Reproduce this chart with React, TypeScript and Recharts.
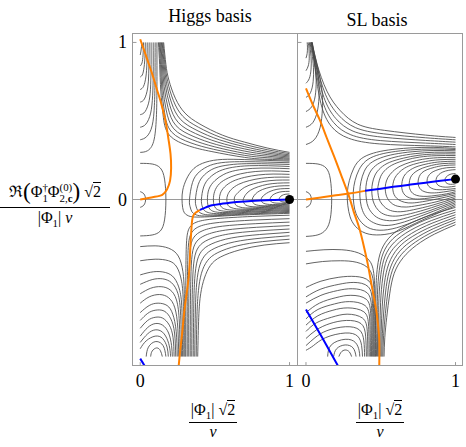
import React from 'react';
import { ScatterChart, Scatter, XAxis, YAxis, ReferenceLine } from 'recharts';

// ---- Higgs basis panel: contour lines as [x, y, x, y, ...]
const higgsCorner = [
  [0, 0.92, 0.005, 0.945, 0.009, 0.975, 0.01, 1.0],
  [0, 0.85, 0.012, 0.87, 0.019, 0.92, 0.022, 1.0],
  [0, 0.78, 0.017, 0.8, 0.028, 0.86, 0.033, 0.93, 0.034, 1.0],
  [0, 0.7, 0.022, 0.72, 0.038, 0.78, 0.045, 0.87, 0.047, 1.0],
  [0, 0.62, 0.028, 0.64, 0.05, 0.71, 0.057, 0.8, 0.059, 0.9, 0.06, 1.0],
  [0, 0.54, 0.033, 0.56, 0.06, 0.63, 0.07, 0.73, 0.073, 0.86, 0.073, 1.0],
  [0, 0.46, 0.038, 0.48, 0.07, 0.55, 0.083, 0.66, 0.087, 0.8, 0.087, 1.0],
  [0, 0.38, 0.043, 0.4, 0.08, 0.47, 0.095, 0.6, 0.099, 0.76, 0.1, 1.0],
  [0, 0.3, 0.048, 0.31, 0.09, 0.37, 0.108, 0.52, 0.112, 0.72, 0.112, 1.0],
];

const higgsFan = [
  [0.157, 1.0, 0.172, 0.86, 0.192, 0.76, 0.235, 0.645, 0.3, 0.55, 0.4, 0.48, 0.55, 0.41, 0.7, 0.365, 0.85, 0.328, 1.0, 0.3],
  [0.152, 1.0, 0.166, 0.86, 0.184, 0.75, 0.222, 0.63, 0.285, 0.53, 0.39, 0.46, 0.54, 0.395, 0.7, 0.35, 0.85, 0.317, 1.0, 0.292],
  [0.147, 1.0, 0.16, 0.86, 0.176, 0.74, 0.21, 0.615, 0.27, 0.51, 0.38, 0.44, 0.53, 0.38, 0.7, 0.336, 0.85, 0.306, 1.0, 0.284],
  [0.142, 1.0, 0.154, 0.86, 0.168, 0.73, 0.198, 0.6, 0.255, 0.49, 0.37, 0.42, 0.52, 0.365, 0.7, 0.322, 0.85, 0.296, 1.0, 0.277],
  [0.137, 1.0, 0.148, 0.86, 0.16, 0.72, 0.186, 0.585, 0.24, 0.47, 0.36, 0.4, 0.51, 0.35, 0.7, 0.308, 0.85, 0.286, 1.0, 0.27],
  [0.132, 1.0, 0.142, 0.86, 0.152, 0.71, 0.174, 0.57, 0.225, 0.45, 0.35, 0.38, 0.5, 0.335, 0.7, 0.294, 0.85, 0.276, 1.0, 0.263],
  [0.127, 1.0, 0.136, 0.86, 0.145, 0.7, 0.163, 0.555, 0.21, 0.43, 0.34, 0.36, 0.49, 0.32, 0.7, 0.281, 0.85, 0.266, 1.0, 0.257],
  [0.122, 1.0, 0.13, 0.86, 0.138, 0.69, 0.153, 0.54, 0.195, 0.41, 0.33, 0.34, 0.48, 0.305, 0.7, 0.268, 0.85, 0.256, 1.0, 0.251],
];

const higgsRings = [
  [1.0, 0.244, 0.85, 0.249, 0.7, 0.254, 0.55, 0.255, 0.44, 0.238, 0.36, 0.198, 0.31, 0.13, 0.285, 0.06, 0.28, 0.0, 0.284, -0.05, 0.296, -0.085, 0.325, -0.105, 0.38, -0.112, 0.5, -0.108, 0.7, -0.098, 1.0, -0.088],
  [1.0, 0.234, 0.85, 0.238, 0.7, 0.241, 0.57, 0.237, 0.47, 0.218, 0.395, 0.175, 0.35, 0.108, 0.33, 0.0, 0.334, -0.045, 0.346, -0.078, 0.375, -0.098, 0.43, -0.105, 0.55, -0.101, 0.73, -0.092, 1.0, -0.082],
  [1.0, 0.223, 0.85, 0.227, 0.71, 0.228, 0.6, 0.221, 0.5, 0.2, 0.43, 0.157, 0.388, 0.094, 0.37, 0.0, 0.374, -0.042, 0.386, -0.072, 0.415, -0.091, 0.47, -0.098, 0.58, -0.094, 0.75, -0.086, 1.0, -0.076],
  [1.0, 0.21, 0.86, 0.215, 0.73, 0.215, 0.62, 0.205, 0.53, 0.181, 0.465, 0.139, 0.425, 0.08, 0.41, 0.0, 0.414, -0.039, 0.426, -0.066, 0.455, -0.083, 0.51, -0.09, 0.61, -0.087, 0.77, -0.079, 1.0, -0.07],
  [1.0, 0.196, 0.87, 0.2, 0.75, 0.198, 0.64, 0.185, 0.56, 0.16, 0.5, 0.12, 0.46, 0.065, 0.45, 0.0, 0.454, -0.036, 0.466, -0.061, 0.495, -0.077, 0.55, -0.083, 0.64, -0.08, 0.79, -0.073, 1.0, -0.064],
  [1.0, 0.178, 0.88, 0.182, 0.77, 0.178, 0.67, 0.163, 0.59, 0.137, 0.53, 0.1, 0.498, 0.05, 0.49, 0.0, 0.494, -0.033, 0.506, -0.056, 0.535, -0.07, 0.59, -0.076, 0.67, -0.073, 0.81, -0.066, 1.0, -0.058],
  [1.0, 0.16, 0.89, 0.162, 0.79, 0.156, 0.7, 0.141, 0.62, 0.116, 0.565, 0.08, 0.537, 0.04, 0.53, 0.0, 0.534, -0.03, 0.546, -0.05, 0.575, -0.063, 0.63, -0.068, 0.71, -0.066, 0.83, -0.06, 1.0, -0.052],
  [1.0, 0.142, 0.9, 0.142, 0.81, 0.135, 0.73, 0.12, 0.66, 0.097, 0.61, 0.064, 0.586, 0.03, 0.58, 0.0, 0.584, -0.027, 0.596, -0.045, 0.625, -0.056, 0.67, -0.061, 0.75, -0.059, 0.86, -0.053, 1.0, -0.046],
  [1.0, 0.124, 0.91, 0.123, 0.83, 0.115, 0.76, 0.1, 0.7, 0.078, 0.656, 0.045, 0.634, 0.02, 0.63, 0.0, 0.634, -0.024, 0.646, -0.04, 0.675, -0.05, 0.72, -0.054, 0.79, -0.052, 0.88, -0.047, 1.0, -0.04],
  [1.0, 0.106, 0.92, 0.104, 0.85, 0.096, 0.79, 0.081, 0.74, 0.06, 0.708, 0.033, 0.69, 0.0, 0.694, -0.021, 0.706, -0.035, 0.735, -0.044, 0.78, -0.047, 0.84, -0.045, 0.91, -0.04, 1.0, -0.034],
  [1.0, 0.088, 0.93, 0.086, 0.87, 0.078, 0.82, 0.064, 0.785, 0.046, 0.762, 0.024, 0.75, 0.0, 0.754, -0.018, 0.766, -0.03, 0.79, -0.037, 0.83, -0.04, 0.88, -0.038, 0.94, -0.034, 1.0, -0.028],
  [1.0, 0.07, 0.94, 0.068, 0.895, 0.06, 0.86, 0.047, 0.835, 0.032, 0.817, 0.016, 0.81, 0.0, 0.814, -0.014, 0.826, -0.024, 0.85, -0.03, 0.885, -0.032, 0.93, -0.03, 1.0, -0.022],
  [1.0, 0.052, 0.95, 0.05, 0.915, 0.042, 0.89, 0.03, 0.875, 0.015, 0.87, 0.0, 0.874, -0.011, 0.886, -0.019, 0.91, -0.023, 0.94, -0.024, 0.97, -0.021, 1.0, -0.016],
  [1.0, 0.035, 0.97, 0.033, 0.95, 0.026, 0.936, 0.015, 0.93, 0.0, 0.934, -0.008, 0.947, -0.013, 0.965, -0.016, 0.985, -0.014, 1.0, -0.01],
];

const higgsLowerFan = [
  [1.0, -0.275, 0.83, -0.29, 0.67, -0.32, 0.54, -0.365, 0.47, -0.42, 0.43, -0.5, 0.405, -0.6, 0.392, -0.75, 0.385, -1.0],
  [1.0, -0.253, 0.82, -0.268, 0.65, -0.295, 0.52, -0.338, 0.45, -0.39, 0.41, -0.47, 0.39, -0.58, 0.38, -0.74, 0.375, -1.0],
  [1.0, -0.231, 0.81, -0.246, 0.63, -0.27, 0.5, -0.31, 0.43, -0.36, 0.393, -0.44, 0.376, -0.56, 0.369, -0.73, 0.365, -1.0],
  [1.0, -0.209, 0.8, -0.223, 0.61, -0.245, 0.48, -0.282, 0.41, -0.33, 0.377, -0.41, 0.363, -0.54, 0.358, -0.72, 0.355, -1.0],
  [1.0, -0.188, 0.79, -0.2, 0.59, -0.22, 0.46, -0.254, 0.393, -0.3, 0.362, -0.38, 0.351, -0.52, 0.347, -0.71, 0.345, -1.0],
  [1.0, -0.166, 0.78, -0.177, 0.57, -0.195, 0.44, -0.226, 0.376, -0.27, 0.348, -0.35, 0.339, -0.5, 0.336, -0.7, 0.335, -1.0],
  [1.0, -0.144, 0.77, -0.154, 0.55, -0.17, 0.42, -0.198, 0.36, -0.24, 0.335, -0.32, 0.328, -0.48, 0.325, -0.69, 0.325, -1.0],
  [1.0, -0.122, 0.76, -0.131, 0.53, -0.146, 0.4, -0.17, 0.345, -0.21, 0.323, -0.29, 0.317, -0.46, 0.315, -0.68, 0.315, -1.0],
  [1.0, -0.1, 0.75, -0.108, 0.51, -0.122, 0.38, -0.143, 0.33, -0.18, 0.311, -0.26, 0.306, -0.44, 0.305, -0.67, 0.305, -1.0],
];

const higgsArches = [
  [0.07, -1.0, 0.08, -0.965, 0.11, -0.945, 0.135, -0.962, 0.148, -1.0],
  [0.04, -1.0, 0.055, -0.94, 0.1, -0.905, 0.145, -0.92, 0.165, -0.96, 0.172, -1.0],
  [0, -0.95, 0.04, -0.9, 0.1, -0.87, 0.15, -0.885, 0.18, -0.94, 0.188, -1.0],
  [0, -0.91, 0.05, -0.855, 0.1, -0.83, 0.15, -0.845, 0.185, -0.9, 0.2, -0.96, 0.203, -1.0],
  [0, -0.87, 0.05, -0.815, 0.1, -0.79, 0.15, -0.8, 0.19, -0.85, 0.21, -0.93, 0.215, -1.0],
  [0, -0.82, 0.05, -0.77, 0.1, -0.75, 0.15, -0.755, 0.195, -0.8, 0.22, -0.88, 0.227, -1.0],
  [0, -0.77, 0.05, -0.725, 0.1, -0.705, 0.16, -0.71, 0.205, -0.76, 0.23, -0.85, 0.238, -1.0],
  [0, -0.72, 0.06, -0.675, 0.12, -0.66, 0.18, -0.675, 0.218, -0.73, 0.241, -0.84, 0.248, -1.0],
  [0, -0.66, 0.06, -0.62, 0.13, -0.605, 0.19, -0.625, 0.232, -0.69, 0.252, -0.82, 0.258, -1.0],
  [0, -0.6, 0.07, -0.565, 0.14, -0.555, 0.2, -0.575, 0.243, -0.64, 0.262, -0.78, 0.267, -1.0],
  [0, -0.54, 0.08, -0.51, 0.15, -0.505, 0.21, -0.53, 0.253, -0.6, 0.271, -0.74, 0.276, -1.0],
  [0, -0.48, 0.09, -0.46, 0.17, -0.465, 0.228, -0.5, 0.265, -0.58, 0.28, -0.72, 0.284, -1.0],
  [0, -0.39, 0.1, -0.38, 0.19, -0.39, 0.245, -0.43, 0.277, -0.52, 0.289, -0.68, 0.292, -1.0],
  [0, -0.3, 0.1, -0.295, 0.19, -0.31, 0.255, -0.36, 0.286, -0.46, 0.296, -0.63, 0.299, -1.0],
];

const higgsCore = [
  [0, 0.05, 0.025, 0.035, 0.036, 0.0, 0.025, -0.035, 0, -0.05],
  [0, 0.23, 0.08, 0.226, 0.135, 0.2, 0.163, 0.13, 0.172, 0.0, 0.163, -0.13, 0.135, -0.2, 0.08, -0.226, 0, -0.232],
];

const higgsOrange = [
  [0, 0, 0.09, 0.016, 0.148, 0.03, 0.18, 0.065, 0.2, 0.12, 0.207, 0.2, 0.203, 0.29, 0.19, 0.38, 0.175, 0.47, 0.157, 0.55, 0.135, 0.63, 0.112, 0.7, 0.085, 0.785, 0.055, 0.87, 0.028, 0.945, 0.0, 1.02],
  [0.4, -0.066, 0.37, -0.085, 0.35, -0.12, 0.342, -0.2, 0.336, -0.3, 0.33, -0.43, 0.318, -0.55, 0.302, -0.66, 0.29, -0.76, 0.28, -0.86, 0.268, -0.96, 0.257, -1.066],
];
const higgsBlue = [
  [0.4, -0.066, 0.44, -0.05, 0.48, -0.037, 0.54, -0.028, 0.6, -0.02, 0.7, -0.012, 0.8, -0.007, 0.9, -0.003, 1.0, 0.0],
  [0, -1.013, 0.034, -1.066],
];
const higgsVacuum = [1.0, 0.0];

// ---- SL basis panel
const slCorner = [
  [0, 0.9, 0.008, 0.93, 0.01, 0.97, 0.008, 1.0],
  [0, 0.82, 0.015, 0.85, 0.022, 0.9, 0.02, 0.96, 0.015, 1.0],
  [0, 0.74, 0.022, 0.77, 0.034, 0.83, 0.034, 0.91, 0.022, 1.0],
  [0, 0.65, 0.03, 0.68, 0.048, 0.75, 0.05, 0.84, 0.04, 0.93, 0.026, 1.0],
  [0, 0.56, 0.038, 0.59, 0.062, 0.66, 0.068, 0.76, 0.058, 0.87, 0.03, 1.0],
  [0, 0.46, 0.046, 0.49, 0.078, 0.57, 0.088, 0.68, 0.078, 0.81, 0.034, 1.0],
  [0, 0.35, 0.055, 0.38, 0.095, 0.46, 0.11, 0.58, 0.1, 0.74, 0.038, 1.0],
];

const slFan = [
  [0.042, 1.0, 0.073, 0.866, 0.14, 0.69, 0.23, 0.565, 0.345, 0.48, 0.526, 0.44, 0.8, 0.41, 1.0, 0.395],
  [0.041, 1.0, 0.07, 0.86, 0.13, 0.67, 0.215, 0.54, 0.33, 0.458, 0.52, 0.418, 0.8, 0.393, 1.0, 0.38],
  [0.04, 1.0, 0.067, 0.85, 0.12, 0.65, 0.2, 0.515, 0.315, 0.435, 0.51, 0.397, 0.8, 0.376, 1.0, 0.365],
  [0.039, 1.0, 0.064, 0.84, 0.11, 0.63, 0.185, 0.49, 0.3, 0.412, 0.5, 0.375, 0.8, 0.359, 1.0, 0.35],
  [0.038, 1.0, 0.061, 0.83, 0.1, 0.61, 0.17, 0.465, 0.285, 0.39, 0.49, 0.354, 0.8, 0.342, 1.0, 0.335],
];

const slRings = [
  [1.0, 0.325, 0.85, 0.332, 0.69, 0.328, 0.55, 0.315, 0.45, 0.295, 0.37, 0.26, 0.32, 0.2, 0.29, 0.12, 0.276, 0.04, 0.28, -0.04, 0.295, -0.11, 0.33, -0.17, 0.4, -0.215, 0.5, -0.225, 0.62, -0.2, 0.78, -0.13, 1.0, -0.04],
  [1.0, 0.318, 0.85, 0.322, 0.7, 0.316, 0.57, 0.302, 0.47, 0.28, 0.4, 0.245, 0.355, 0.19, 0.328, 0.12, 0.316, 0.045, 0.32, -0.03, 0.335, -0.09, 0.37, -0.145, 0.43, -0.185, 0.52, -0.195, 0.64, -0.17, 0.8, -0.11, 1.0, -0.03],
  [1.0, 0.31, 0.85, 0.312, 0.71, 0.304, 0.59, 0.288, 0.5, 0.265, 0.43, 0.23, 0.39, 0.18, 0.368, 0.115, 0.36, 0.05, 0.364, -0.015, 0.378, -0.07, 0.41, -0.12, 0.47, -0.155, 0.55, -0.165, 0.66, -0.142, 0.81, -0.09, 1.0, -0.02],
  [1.0, 0.3, 0.86, 0.301, 0.73, 0.292, 0.62, 0.275, 0.53, 0.25, 0.465, 0.215, 0.425, 0.168, 0.405, 0.11, 0.4, 0.055, 0.404, 0.0, 0.417, -0.05, 0.45, -0.095, 0.5, -0.125, 0.58, -0.135, 0.68, -0.115, 0.83, -0.07, 1.0, -0.01],
  [1.0, 0.29, 0.87, 0.29, 0.75, 0.281, 0.65, 0.263, 0.56, 0.237, 0.5, 0.202, 0.462, 0.156, 0.445, 0.105, 0.44, 0.06, 0.444, 0.012, 0.457, -0.03, 0.485, -0.07, 0.53, -0.097, 0.6, -0.106, 0.7, -0.09, 0.84, -0.052, 1.0, 0.0],
  [1.0, 0.28, 0.87, 0.279, 0.76, 0.27, 0.67, 0.252, 0.59, 0.226, 0.535, 0.192, 0.5, 0.148, 0.485, 0.1, 0.48, 0.065, 0.484, 0.024, 0.496, -0.012, 0.523, -0.045, 0.565, -0.07, 0.63, -0.078, 0.72, -0.065, 0.85, -0.035, 1.0, 0.01],
  [1.0, 0.268, 0.88, 0.266, 0.78, 0.256, 0.7, 0.238, 0.63, 0.212, 0.58, 0.178, 0.547, 0.138, 0.533, 0.1, 0.53, 0.07, 0.534, 0.036, 0.546, 0.006, 0.57, -0.022, 0.61, -0.042, 0.67, -0.048, 0.75, -0.038, 0.87, -0.015, 1.0, 0.02],
  [1.0, 0.256, 0.89, 0.253, 0.8, 0.242, 0.72, 0.224, 0.66, 0.2, 0.62, 0.17, 0.593, 0.135, 0.582, 0.1, 0.58, 0.075, 0.584, 0.046, 0.596, 0.02, 0.62, -0.002, 0.66, -0.018, 0.71, -0.022, 0.78, -0.014, 0.88, 0.004, 1.0, 0.03],
  [1.0, 0.244, 0.9, 0.24, 0.82, 0.229, 0.75, 0.212, 0.7, 0.19, 0.665, 0.162, 0.647, 0.13, 0.641, 0.1, 0.64, 0.082, 0.644, 0.058, 0.655, 0.036, 0.675, 0.018, 0.71, 0.006, 0.76, 0.003, 0.83, 0.01, 0.91, 0.022, 1.0, 0.04],
  [1.0, 0.232, 0.91, 0.228, 0.84, 0.217, 0.78, 0.2, 0.735, 0.178, 0.706, 0.152, 0.693, 0.122, 0.69, 0.09, 0.694, 0.068, 0.705, 0.048, 0.725, 0.032, 0.76, 0.022, 0.81, 0.02, 0.87, 0.026, 0.94, 0.036, 1.0, 0.05],
  [1.0, 0.22, 0.92, 0.216, 0.86, 0.205, 0.81, 0.19, 0.775, 0.17, 0.757, 0.145, 0.75, 0.118, 0.751, 0.095, 0.76, 0.072, 0.78, 0.055, 0.815, 0.044, 0.86, 0.042, 0.92, 0.048, 1.0, 0.06],
  [1.0, 0.205, 0.94, 0.202, 0.89, 0.192, 0.85, 0.177, 0.825, 0.158, 0.812, 0.135, 0.81, 0.112, 0.815, 0.092, 0.83, 0.077, 0.855, 0.066, 0.89, 0.062, 0.94, 0.064, 1.0, 0.07],
  [1.0, 0.19, 0.955, 0.186, 0.915, 0.175, 0.888, 0.158, 0.873, 0.138, 0.87, 0.118, 0.875, 0.1, 0.89, 0.087, 0.915, 0.08, 0.95, 0.079, 1.0, 0.085],
  [1.0, 0.165, 0.97, 0.162, 0.945, 0.15, 0.932, 0.135, 0.93, 0.122, 0.936, 0.108, 0.955, 0.098, 0.98, 0.097, 1.0, 0.1],
];

const slLowerFan = [
  [1.0, -0.16, 0.86, -0.22, 0.74, -0.29, 0.65, -0.37, 0.59, -0.47, 0.56, -0.6, 0.54, -0.75, 0.527, -0.88, 0.522, -1.0],
  [1.0, -0.144, 0.856, -0.203, 0.732, -0.271, 0.639, -0.349, 0.578, -0.45, 0.549, -0.577, 0.531, -0.726, 0.519, -0.867, 0.514, -1.0],
  [1.0, -0.128, 0.851, -0.186, 0.723, -0.253, 0.627, -0.329, 0.566, -0.43, 0.537, -0.554, 0.521, -0.703, 0.511, -0.854, 0.507, -1.0],
  [1.0, -0.113, 0.847, -0.169, 0.714, -0.234, 0.616, -0.309, 0.554, -0.409, 0.525, -0.53, 0.51, -0.679, 0.503, -0.84, 0.5, -1.0],
  [1.0, -0.097, 0.843, -0.151, 0.706, -0.216, 0.604, -0.291, 0.541, -0.381, 0.513, -0.5, 0.499, -0.655, 0.495, -0.827, 0.493, -1.0],
  [1.0, -0.081, 0.839, -0.134, 0.697, -0.197, 0.593, -0.27, 0.529, -0.36, 0.501, -0.477, 0.488, -0.63, 0.486, -0.814, 0.486, -1.0],
  [1.0, -0.066, 0.834, -0.117, 0.689, -0.179, 0.581, -0.25, 0.517, -0.34, 0.49, -0.453, 0.478, -0.605, 0.477, -0.8, 0.479, -1.0],
  [1.0, -0.05, 0.83, -0.1, 0.68, -0.16, 0.57, -0.23, 0.505, -0.32, 0.478, -0.43, 0.468, -0.58, 0.469, -0.8, 0.472, -1.0],
];

const slArches = [
  [0.22, -1.0, 0.235, -0.972, 0.262, -0.958, 0.29, -0.97, 0.305, -1.0],
  [0.185, -1.0, 0.205, -0.95, 0.262, -0.926, 0.315, -0.945, 0.335, -1.0],
  [0.145, -1.0, 0.17, -0.925, 0.262, -0.89, 0.33, -0.91, 0.355, -0.96, 0.36, -1.0],
  [0, -0.96, 0.05, -0.93, 0.13, -0.88, 0.262, -0.85, 0.345, -0.87, 0.372, -0.93, 0.378, -1.0],
  [0, -0.93, 0.06, -0.88, 0.14, -0.835, 0.265, -0.81, 0.357, -0.83, 0.387, -0.9, 0.392, -1.0],
  [0, -0.885, 0.07, -0.83, 0.16, -0.79, 0.27, -0.77, 0.368, -0.79, 0.399, -0.87, 0.404, -1.0],
  [0, -0.84, 0.07, -0.785, 0.17, -0.75, 0.275, -0.73, 0.378, -0.755, 0.41, -0.84, 0.414, -1.0],
  [0, -0.8, 0.08, -0.74, 0.18, -0.705, 0.28, -0.69, 0.387, -0.715, 0.419, -0.81, 0.423, -1.0],
  [0, -0.76, 0.08, -0.7, 0.19, -0.665, 0.29, -0.65, 0.395, -0.675, 0.427, -0.78, 0.431, -1.0],
  [0, -0.72, 0.09, -0.66, 0.2, -0.625, 0.3, -0.61, 0.403, -0.635, 0.434, -0.75, 0.438, -1.0],
  [0, -0.66, 0.1, -0.61, 0.21, -0.58, 0.31, -0.568, 0.41, -0.595, 0.44, -0.72, 0.444, -1.0],
  [0, -0.62, 0.1, -0.57, 0.22, -0.54, 0.32, -0.528, 0.416, -0.555, 0.446, -0.69, 0.45, -1.0],
  [0, -0.56, 0.1, -0.52, 0.22, -0.495, 0.33, -0.49, 0.422, -0.52, 0.451, -0.66, 0.455, -1.0],
  [0, -0.41, 0.11, -0.395, 0.23, -0.39, 0.34, -0.4, 0.427, -0.45, 0.455, -0.58, 0.46, -0.8, 0.46, -1.0],
  [0, -0.33, 0.12, -0.32, 0.24, -0.32, 0.35, -0.34, 0.432, -0.4, 0.459, -0.54, 0.465, -0.8, 0.465, -1.0],
];

const slCore = [
  [0, 0.05, 0.025, 0.035, 0.036, 0.0, 0.025, -0.035, 0, -0.05],
  [0, 0.23, 0.08, 0.226, 0.135, 0.2, 0.163, 0.13, 0.172, 0.0, 0.163, -0.12, 0.135, -0.19, 0.08, -0.225, 0, -0.235],
];

const slOrange = [
  [0, 0.707, 0.047, 0.6, 0.093, 0.505, 0.14, 0.39, 0.19, 0.27, 0.231, 0.166, 0.288, 0.02, 0.32, -0.08, 0.354, -0.174, 0.39, -0.31, 0.413, -0.41, 0.433, -0.514, 0.452, -0.61, 0.469, -0.7, 0.482, -0.8, 0.49, -0.89, 0.491, -0.98, 0.49, -1.066],
  [0, 0, 0.1, 0.013, 0.2, 0.027, 0.3, 0.04, 0.395, 0.055],
];
const slBlue = [
  [0.395, 0.055, 0.5, 0.069, 0.6, 0.083, 0.7, 0.095, 0.8, 0.107, 0.9, 0.119, 1.0, 0.13],
  [0, -0.7, 0.11, -0.882, 0.218, -1.066],
];
const slVacuum = [1.0, 0.13];

const axisTicks = [0, 1];

const pts = (flat: number[]) => {
  const out: { x: number; y: number }[] = [];
  for (let i = 0; i < flat.length; i += 2) out.push({ x: flat[i], y: flat[i + 1] });
  return out;
};

const noDot = () => <g />;
const SERIF = 'Liberation Serif';
const Y_DOMAIN: [number, number] = [-1.06, 1.06];
const CONTOUR = '#474747';

const XTick = (props: any) => (
  <text x={props.x} y={props.y + 13} textAnchor="middle" fontFamily={SERIF} fontSize={18} fill="#000">
    {props.payload.value}
  </text>
);
const YTick = (props: any) => (
  <text x={props.x - 3} y={props.y + 6} textAnchor="end" fontFamily={SERIF} fontSize={18} fill="#000">
    {props.payload.value}
  </text>
);

interface PanelProps {
  contours: number[][];
  orange: number[][];
  blue: number[][];
  vacuum: number[];
  xDomain: [number, number];
  showY: boolean;
  width: number;
}

const Panel: React.FC<PanelProps> = ({ contours, orange, blue, vacuum, xDomain, showY, width }) => {
  const x0 = xDomain[0];
  return (
    <ScatterChart width={width} height={373} margin={{ top: 0, right: 0, bottom: 0, left: 0 }}>
      <XAxis
        type="number"
        dataKey="x"
        domain={xDomain}
        allowDataOverflow
        ticks={axisTicks}
        tickSize={0}
        tickMargin={8}
        axisLine={false}
        tickLine={false}
        height={40}
        tick={<XTick />}
      />
      <YAxis
        type="number"
        dataKey="y"
        domain={Y_DOMAIN}
        allowDataOverflow
        ticks={axisTicks}
        hide={!showY}
        width={20}
        tickSize={0}
        tickMargin={2}
        axisLine={false}
        tickLine={false}
        tick={<YTick />}
      />
      <ReferenceLine y={0} stroke="#9a9a9a" strokeWidth={1} />
      <ReferenceLine segment={[{ x: x0, y: 1 }, { x: x0 + 0.03, y: 1 }]} stroke="#9a9a9a" />
      <ReferenceLine segment={[{ x: 0, y: -1.06 }, { x: 0, y: -1.035 }]} stroke="#9a9a9a" />
      <ReferenceLine segment={[{ x: 1, y: -1.06 }, { x: 1, y: -1.035 }]} stroke="#9a9a9a" />
      {contours.map((c, i) => (
        <Scatter
          key={`c${i}`}
          data={pts(c)}
          line={{ stroke: CONTOUR, strokeWidth: 0.85 }}
          lineJointType="natural"
          shape={noDot}
          isAnimationActive={false}
        />
      ))}
      {orange.map((c, i) => (
        <Scatter
          key={`o${i}`}
          data={pts(c)}
          line={{ stroke: '#ff8000', strokeWidth: 2 }}
          lineJointType="natural"
          shape={noDot}
          isAnimationActive={false}
        />
      ))}
      {blue.map((c, i) => (
        <Scatter
          key={`b${i}`}
          data={pts(c)}
          line={{ stroke: '#0000ff', strokeWidth: 2 }}
          lineJointType="natural"
          shape={noDot}
          isAnimationActive={false}
        />
      ))}
      <Scatter data={pts(vacuum)} fill="#000" shape="circle" isAnimationActive={false} />
    </ScatterChart>
  );
};

const Idx: React.FC<{ sup?: React.ReactNode; sub: React.ReactNode }> = ({ sup, sub }) => (
  <span
    style={{
      display: 'inline-flex',
      flexDirection: 'column',
      verticalAlign: 'middle',
      fontSize: '0.68em',
      lineHeight: 1.0,
      textAlign: 'left',
    }}
  >
    <span>{sup ?? '\u00a0'}</span>
    <span>{sub}</span>
  </span>
);

const Sqrt2 = () => (
  <span>
    √<span style={{ borderTop: '1px solid #000' }}>2</span>
  </span>
);

export default function App() {
  const higgsContours = [...higgsCorner, ...higgsFan, ...higgsRings, ...higgsLowerFan, ...higgsArches, ...higgsCore];
  const slContours = [...slCorner, ...slFan, ...slRings, ...slLowerFan, ...slArches, ...slCore];
  const frame = { position: 'absolute' as const, top: 33, height: 333, border: '1px solid #9a9a9a', boxSizing: 'border-box' as const };
  return (
    <div style={{ position: 'absolute', left: 0, top: 0, width: 466, height: 447, background: '#fff', fontFamily: SERIF, color: '#000' }}>
      <div style={{ position: 'absolute', left: 150, top: 6, width: 120, textAlign: 'center', fontSize: 18 }}>Higgs basis</div>
      <div style={{ position: 'absolute', left: 317, top: 10, width: 120, textAlign: 'center', fontSize: 18 }}>SL basis</div>

      <div style={{ position: 'absolute', left: 112, top: 33 }}>
        <Panel contours={higgsContours} orange={higgsOrange} blue={higgsBlue} vacuum={higgsVacuum} xDomain={[-0.055, 1.05]} showY width={185} />
      </div>
      <div style={{ position: 'absolute', left: 297, top: 33 }}>
        <Panel contours={slContours} orange={slOrange} blue={slBlue} vacuum={slVacuum} xDomain={[-0.06, 1.05]} showY={false} width={166} />
      </div>
      <div style={{ ...frame, left: 132, width: 166 }} />
      <div style={{ ...frame, left: 297, width: 166 }} />

      {/* y label */}
      <div style={{ position: 'absolute', left: 0, top: 178, width: 110, textAlign: 'center', fontSize: 16 }}>
        <div style={{ borderBottom: '1px solid #000', paddingBottom: 2, whiteSpace: 'nowrap' }}>
          ℜ<span style={{ fontSize: '1.45em', verticalAlign: '-0.1em' }}>(</span>Φ<Idx sup="†" sub="1" />Φ
          <Idx sup="(0)" sub={<span>2,<b>c</b></span>} />
          <span style={{ fontSize: '1.45em', verticalAlign: '-0.1em' }}>)</span> <Sqrt2 />
        </div>
        <div style={{ marginTop: 1 }}>
          |Φ<sub style={{ fontSize: '0.68em' }}>1</sub>| <i>v</i>
        </div>
      </div>

      {/* x labels */}
      {[163, 330].map((left) => (
        <div key={left} style={{ position: 'absolute', left, top: 401, width: 100, textAlign: 'center', fontSize: 16 }}>
          <div style={{ display: 'inline-block' }}>
            <div style={{ borderBottom: '1px solid #000', padding: '0 2px 1px' }}>
              |Φ<sub style={{ fontSize: '0.68em' }}>1</sub>| <Sqrt2 />
            </div>
            <div>
              <i>v</i>
            </div>
          </div>
        </div>
      ))}
    </div>
  );
}
